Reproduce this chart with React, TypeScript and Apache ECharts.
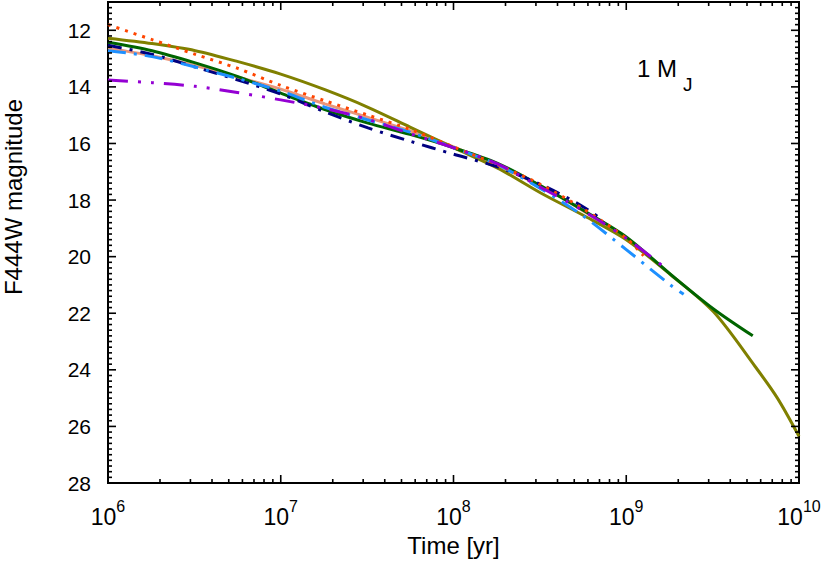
import React, { useEffect, useRef } from "react";
import * as echarts from "echarts";

const FONT = "'Liberation Sans', Arial, Helvetica, sans-serif";

// Axis ticks / labels
const X_DECADES = [1e6, 1e7, 1e8, 1e9, 1e10];
const X_MINOR_MULT = [2, 3, 4, 5, 6, 7, 8, 9];
const Y_TICKS = [12, 14, 16, 18, 20, 22, 24, 26, 28];
const Y_MIN = 11;
const Y_MAX = 28;
const Y_MINOR_STEP = 0.2;

// Series: time [yr] and F444W magnitude
const oliveT = [1e6, 1.8e6, 3.2e6, 5.6e6, 1e7, 1.8e7, 3.2e7, 5.6e7, 1e8, 1.8e8, 3.2e8, 5.6e8, 1e9, 1.8e9, 3.2e9, 5.6e9, 7.5e9, 1e10];
const oliveM = [12.28, 12.47, 12.72, 13.1, 13.55, 14.1, 14.72, 15.42, 16.15, 16.87, 17.75, 18.53, 19.4, 20.63, 21.95, 23.9, 25.0, 26.35];

const greenT = [1e6, 1.8e6, 3.2e6, 5.6e6, 1e7, 1.8e7, 3.2e7, 5.6e7, 1e8, 1.8e8, 3.2e8, 5.6e8, 1e9, 1.8e9, 3.2e9, 5.4e9];
const greenM = [12.42, 12.72, 13.15, 13.63, 14.22, 14.8, 15.28, 15.68, 16.15, 16.7, 17.5, 18.35, 19.3, 20.62, 21.85, 22.8];

const orangeT = [1e6, 1.8e6, 3.2e6, 5.6e6, 1e7, 1.8e7, 3.2e7, 5.6e7, 1e8, 1.8e8, 3.2e8, 5.6e8, 1e9, 1.26e9];
const orangeM = [11.8, 12.33, 12.85, 13.34, 13.95, 14.49, 15.0, 15.5, 16.12, 16.75, 17.45, 18.3, 19.35, 19.97];

const blueT = [1e6, 1.8e6, 3.2e6, 5.6e6, 1e7, 1.8e7, 3.2e7, 5.6e7, 1e8, 1.8e8, 3.2e8, 5.6e8, 1e9, 1.8e9, 2.15e9];
const blueM = [12.72, 12.93, 13.3, 13.7, 14.15, 14.72, 15.17, 15.6, 16.15, 16.75, 17.6, 18.55, 19.75, 21.0, 21.33];

const navyT = [1e6, 1.8e6, 3.2e6, 5.6e6, 1e7, 1.8e7, 3.2e7, 5.6e7, 1e8, 1.8e8, 3.2e8, 5e8, 6.2e8, 7e8];
const navyM = [12.53, 12.85, 13.3, 13.75, 14.25, 14.88, 15.45, 15.92, 16.38, 16.83, 17.45, 18.05, 18.4, 18.63];

const purpleT = [1e6, 1.8e6, 3.2e6, 5.6e6, 1e7, 1.8e7, 3.2e7, 5.6e7, 1e8, 1.8e8, 3.2e8, 5.6e8, 1e9, 1.6e9];
const purpleM = [13.76, 13.85, 13.98, 14.2, 14.46, 14.76, 15.15, 15.65, 16.15, 16.72, 17.55, 18.37, 19.35, 20.3];

const salmonT = [1e6, 1.8e6, 3.2e6, 5.6e6, 1e7, 1.8e7, 3.2e7, 5.6e7, 1e8, 3.2e8, 1e9];
const salmonM = [12.63, 12.9, 13.25, 13.65, 14.08, 14.6, 15.08, 15.55, 16.12, 17.5, 19.35];

// tick marks as [time, magnitude]; the unused coordinate sits inside the plot range
const X_MAJOR_DATA = X_DECADES.map((d) => [d, 20]);
const X_MINOR_DATA = X_DECADES.slice(0, -1).flatMap((d) => X_MINOR_MULT.map((k) => [d * k, 20]));
const Y_MAJOR_DATA = Y_TICKS.map((v) => [1e8, v]);
const Y_MINOR_DATA: number[][] = [];
for (let i = 0; Y_MIN + i * Y_MINOR_STEP <= Y_MAX + 1e-9; i++) {
  const v = Math.round((Y_MIN + i * Y_MINOR_STEP) * 10) / 10;
  if (!Y_TICKS.includes(v)) Y_MINOR_DATA.push([1e8, v]);
}

function mk(T: number[], M: number[], color: string, dash: any) {
  return {
    type: "line",
    data: T.map((t, i) => [t, M[i]]),
    showSymbol: false,
    symbol: "none",
    smooth: 0.3,
    lineStyle: { color, width: 3, type: dash, cap: "butt" },
  };
}

function tickSeries(data: number[][], side: string, len: number) {
  return {
    type: "custom",
    data,
    z: 10,
    renderItem: (params: any, api: any) => {
      const cs = params.coordSys;
      const p = api.coord([api.value(0), api.value(1)]);
      let shape: any;
      if (side === "bottom") {
        const b = cs.y + cs.height;
        shape = { x1: p[0], y1: b, x2: p[0], y2: b - len };
      } else if (side === "top") {
        shape = { x1: p[0], y1: cs.y, x2: p[0], y2: cs.y + len };
      } else if (side === "left") {
        shape = { x1: cs.x, y1: p[1], x2: cs.x + len, y2: p[1] };
      } else {
        const r = cs.x + cs.width;
        shape = { x1: r, y1: p[1], x2: r - len, y2: p[1] };
      }
      return { type: "line", shape, style: { stroke: "#000", lineWidth: 1.6 } };
    },
  };
}

export default function App() {
  const ref = useRef<HTMLDivElement>(null);
  useEffect(() => {
    const el = ref.current!;
    const chart = echarts.init(el, null, { renderer: "svg", width: 830, height: 568 });
    const option: any = {
      animation: false,
      backgroundColor: "#fff",
      grid: { left: 108, right: 31, top: 2, bottom: 85, show: true, borderColor: "#000", borderWidth: 2, backgroundColor: "transparent" },
      xAxis: {
        type: "log",
        logBase: 10,
        min: 1e6,
        max: 1e10,
        axisLine: { show: true, onZero: false, lineStyle: { color: "#000", width: 2 } },
        axisTick: { show: false },
        minorTick: { show: false },
        splitLine: { show: false },
        axisLabel: {
          show: true,
          margin: 15,
          showMinLabel: true,
          showMaxLabel: true,
          formatter: (v: number) => `{b|10}{s|${Math.round(Math.log10(v))}}`,
          rich: {
            b: { fontSize: 23, fontFamily: FONT, color: "#000", lineHeight: 30, verticalAlign: "bottom" },
            s: { fontSize: 16, fontFamily: FONT, color: "#000", lineHeight: 16, verticalAlign: "top" },
          },
        },
        name: "Time [yr]",
        nameLocation: "middle",
        nameGap: 50,
        nameTextStyle: { fontSize: 24, fontFamily: FONT, color: "#000" },
      },
      yAxis: {
        type: "value",
        min: Y_MIN,
        max: Y_MAX,
        inverse: true,
        axisLine: { show: true, onZero: false, lineStyle: { color: "#000", width: 2 } },
        axisTick: { show: false },
        axisLabel: { show: true, customValues: Y_TICKS, margin: 17, fontSize: 21, fontFamily: FONT, color: "#000" },
        splitLine: { show: false },
      },
      graphic: [
        {
          type: "text",
          x: 13,
          y: 197,
          rotation: Math.PI / 2,
          style: { text: "F444W magnitude", fontSize: 24, fontFamily: FONT, fill: "#000", align: "center", verticalAlign: "middle" },
        },
        {
          type: "text",
          x: 637,
          y: 68,
          style: { text: "1 M", fontSize: 24, fontFamily: FONT, fill: "#000", align: "left", verticalAlign: "middle" },
        },
        {
          type: "text",
          x: 683,
          y: 84,
          style: { text: "J", fontSize: 19, fontFamily: FONT, fill: "#000", align: "left", verticalAlign: "middle" },
        },
      ],
      series: [
        mk(salmonT, salmonM, "#E9967A", "solid"),
        mk(oliveT, oliveM, "#808000", "solid"),
        mk(greenT, greenM, "#006400", "solid"),
        mk(navyT, navyM, "#000080", [14, 8, 3, 8]),
        mk(blueT, blueM, "#1E90FF", [18, 8, 3, 8]),
        mk(orangeT, orangeM, "#FF4500", [3, 6]),
        mk(purpleT, purpleM, "#9400D3", [20, 10, 3, 10, 3, 10]),
        tickSeries(X_MAJOR_DATA, "bottom", 8),
        tickSeries(X_MINOR_DATA, "bottom", 4),
        tickSeries(X_MAJOR_DATA, "top", 8),
        tickSeries(X_MINOR_DATA, "top", 4),
        tickSeries(Y_MAJOR_DATA, "left", 8),
        tickSeries(Y_MINOR_DATA, "left", 4),
        tickSeries(Y_MAJOR_DATA, "right", 8),
        tickSeries(Y_MINOR_DATA, "right", 4),
      ],
    };
    chart.setOption(option);
    return () => chart.dispose();
  }, []);
  return <div ref={ref} style={{ position: "fixed", left: 0, top: 0, width: 830, height: 568, background: "#fff" }} />;
}
